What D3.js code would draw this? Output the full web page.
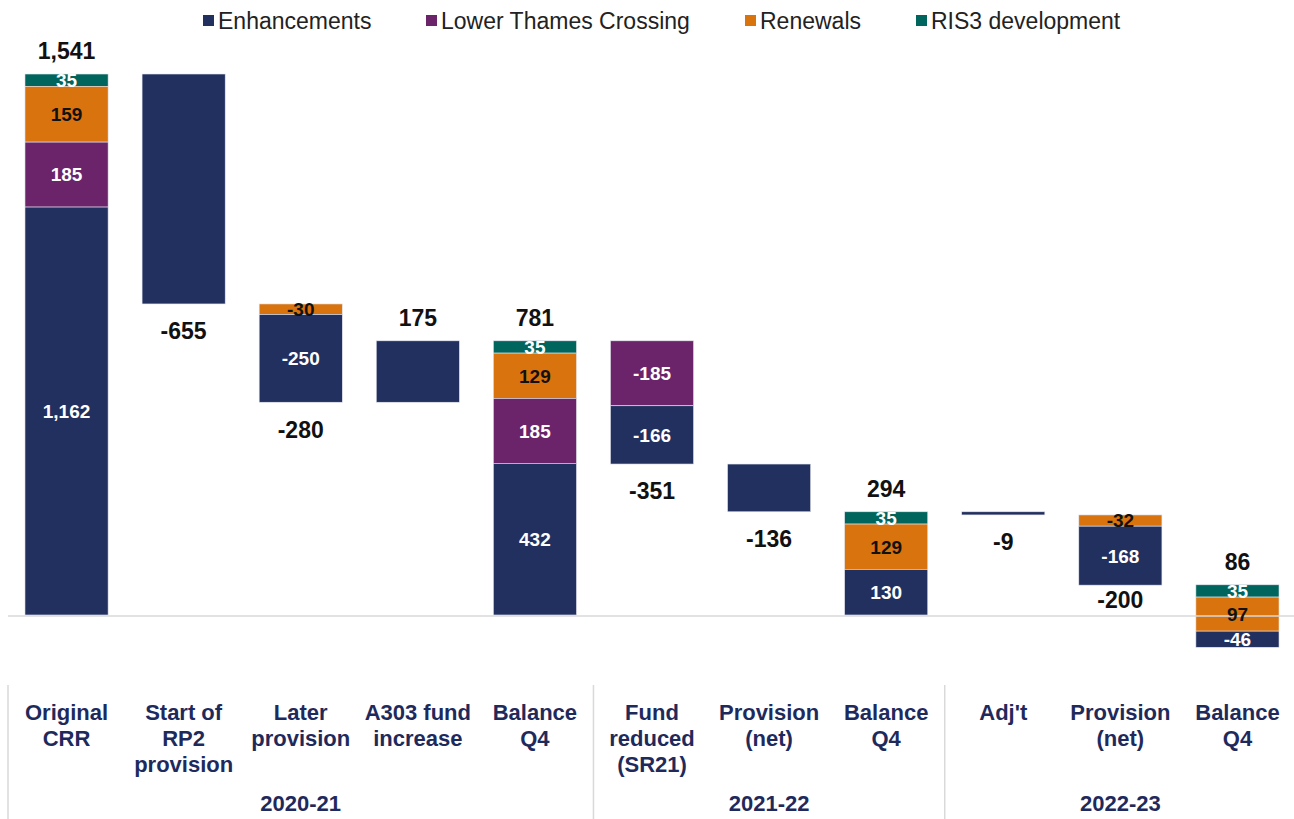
<!DOCTYPE html>
<html>
<head>
<meta charset="utf-8">
<script src="https://cdn.jsdelivr.net/npm/d3@7"></script>
<style>
  body { margin: 0; background: #fff; }
  svg { font-family: "Liberation Sans", Arial, sans-serif; }
</style>
</head>
<body>
<div id="chart"></div>
<script>
// カテゴリ・データ
const categories = [
  ['Original', 'CRR'], ['Start of', 'RP2', 'provision'], ['Later', 'provision'],
  ['A303 fund', 'increase'], ['Balance', 'Q4'], ['Fund', 'reduced', '(SR21)'],
  ['Provision', '(net)'], ['Balance', 'Q4'], ["Adj't"], ['Provision', '(net)'], ['Balance', 'Q4']
];
const years = ['2020-21', '2021-22', '2022-23'];
const isTotal = [true, false, false, false, true, false, false, true, false, false, true];
const totals = [1541, -655, -280, 175, 781, -351, -136, 294, -9, -200, 86];

const seriesNames = ['Enhancements', 'Lower Thames Crossing', 'Renewals', 'RIS3 development'];
const enhancements = [1162, -655, -250, 175, 432, -166, -136, 130, -9, -168, -46];
const lowerThames = [185, 0, 0, 0, 185, -185, 0, 0, 0, 0, 0];
const renewals = [159, 0, -30, 0, 129, 0, 0, 129, 0, -32, 97];
const ris3 = [35, 0, 0, 0, 35, 0, 0, 35, 0, 0, 35];

const colors = ['#22305f', '#6b236a', '#d9730d', '#00655d'];
const labelColors = ['#fff', '#fff', '#111', '#fff'];

const fmt = d3.formatLocale({ decimal: '.', thousands: ',', grouping: [3], currency: ['', ''], minus: '-' }).format(',');

// svg領域設定
const svgWidth = 1294;
const svgHeight = 819;
const svg = d3.select('#chart').append('svg')
  .attr('width', svgWidth)
  .attr('height', svgHeight);

const x = d3.scaleBand()
  .domain(d3.range(categories.length))
  .range([8, 1296])
  .paddingInner(0.29)
  .paddingOuter(0.145);

const y = d3.scaleLinear()
  .domain([-200, 1600])
  .range([685.2, 53.3]);

// 積み上げ位置の計算（上から RIS3, Renewals, LTC, Enhancements）
const series = [enhancements, lowerThames, renewals, ris3];
const order = [3, 2, 1, 0];
let level = 0;
const bars = totals.map((t, i) => {
  let top;
  if (isTotal[i]) {
    top = t;
    level = t;
  } else {
    const start = level;
    level = start + t;
    top = Math.max(start, level);
  }
  const nonZero = series.filter(s => s[i] !== 0).length;
  const segs = [];
  let cur = top;
  order.forEach(k => {
    const v = series[k][i];
    if (v === 0) return;
    const h = Math.abs(v);
    segs.push({ k, v, y0: cur, y1: cur - h, i, show: nonZero > 1 });
    cur -= h;
  });
  return { i, t, top, bottom: cur, segs };
});

const g = svg.selectAll('g.bar')
  .data(bars)
  .join('g')
  .attr('class', 'bar');

g.selectAll('rect')
  .data(d => d.segs)
  .join('rect')
  .attr('x', d => x(d.i))
  .attr('width', x.bandwidth())
  .attr('y', d => y(d.y0))
  .attr('height', d => Math.max(3, y(d.y1) - y(d.y0)))
  .attr('fill', d => colors[d.k])
  .attr('stroke', '#e4e7ef')
  .attr('stroke-width', 0.6);

// 基準線（棒の上に重ねる）
svg.append('line')
  .attr('x1', 8).attr('x2', 1294)
  .attr('y1', y(0) + 1).attr('y2', y(0) + 1)
  .attr('stroke', '#d9d9d9').attr('stroke-width', 1.5);

const labels = svg.selectAll('g.lab')
  .data(bars)
  .join('g')
  .attr('class', 'lab');

labels.selectAll('text.seg')
  .data(d => d.segs.filter(s => s.show))
  .join('text')
  .attr('class', 'seg')
  .attr('x', d => x(d.i) + x.bandwidth() / 2)
  .attr('y', d => (y(d.y0) + y(d.y1)) / 2)
  .attr('dy', '0.36em')
  .attr('text-anchor', 'middle')
  .attr('font-size', 19)
  .attr('font-weight', 'bold')
  .attr('fill', d => labelColors[d.k])
  .text(d => fmt(d.v));

// 合計ラベル
labels.append('text')
  .attr('x', d => x(d.i) + x.bandwidth() / 2)
  .attr('y', d => {
    if (d.t > 0) return y(d.top) - 23;
    const below = y(d.bottom) + 27;
    return Math.min(below, y(0) - 15);
  })
  .attr('dy', '0.36em')
  .attr('text-anchor', 'middle')
  .attr('font-size', 23)
  .attr('font-weight', 'bold')
  .attr('fill', '#111')
  .text(d => fmt(d.t));

// カテゴリ軸
const axis = svg.append('g');
axis.selectAll('text.cat')
  .data(categories)
  .join('text')
  .attr('class', 'cat')
  .attr('x', (d, i) => x(i) + x.bandwidth() / 2)
  .attr('y', 720)
  .attr('text-anchor', 'middle')
  .attr('font-size', 22)
  .attr('font-weight', 'bold')
  .attr('fill', '#1f2a5c')
  .selectAll('tspan')
  .data(d => d)
  .join('tspan')
  .attr('x', function () { return this.parentNode.getAttribute('x'); })
  .attr('dy', (d, j) => (j === 0 ? 0 : 26))
  .text(d => d);

const sepIdx = [0, 5, 8, 11];
const sepX = sepIdx.map(i => (i === 0 ? 8 : i === 11 ? 1296 : x(i) - x.step() * x.paddingInner() / 2));
axis.selectAll('line.sep')
  .data(sepX.slice(0, 3))
  .join('line')
  .attr('class', 'sep')
  .attr('x1', d => d).attr('x2', d => d)
  .attr('y1', 685).attr('y2', 819)
  .attr('stroke', '#d9d9d9').attr('stroke-width', 1.5);

axis.selectAll('text.year')
  .data(years)
  .join('text')
  .attr('class', 'year')
  .attr('x', (d, i) => (sepX[i] + sepX[i + 1]) / 2)
  .attr('y', 811)
  .attr('text-anchor', 'middle')
  .attr('font-size', 22)
  .attr('font-weight', 'bold')
  .attr('fill', '#1f2a5c')
  .text(d => d);

// 凡例
const legendX = [203, 426, 745, 916];
const legend = svg.append('g');
const li = legend.selectAll('g')
  .data(seriesNames)
  .join('g')
  .attr('transform', (d, i) => `translate(${legendX[i]},21)`);
li.append('rect')
  .attr('x', 0).attr('y', -6)
  .attr('width', 11).attr('height', 11)
  .attr('fill', (d, i) => colors[i]);
li.append('text')
  .attr('x', 15)
  .attr('dy', '0.36em')
  .attr('font-size', 23)
  .attr('fill', '#222')
  .text(d => d);
</script>
</body>
</html>
